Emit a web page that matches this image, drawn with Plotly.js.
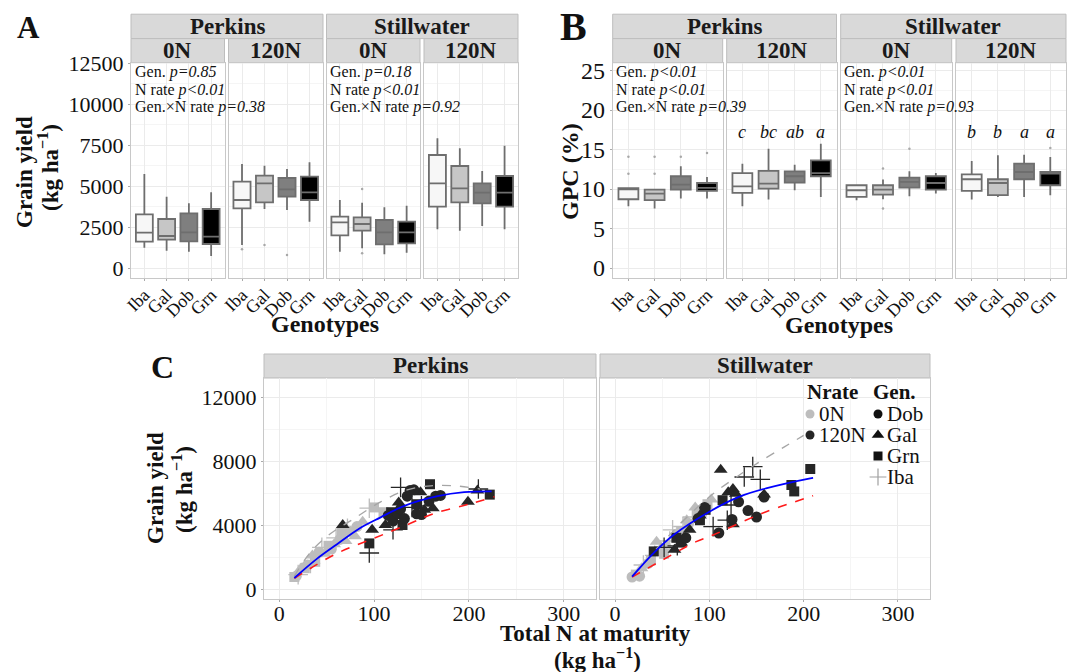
<!DOCTYPE html>
<html><head><meta charset="utf-8">
<script src="https://cdn.plot.ly/plotly-3.0.1.min.js"></script>
<style>body{margin:0;background:#fff}#chart{width:1067px;height:672px}</style>
</head><body><div id="chart"></div>
<script>
// ---------- DATA ----------
const genotypes = ['Iba','Gal','Dob','Grn'];
const sites = ['Perkins','Stillwater'];
const nrates = ['0N','120N'];
const legendGen = ['Dob','Gal','Grn','Iba'];
// facets order: Perkins 0N, Perkins 120N, Stillwater 0N, Stillwater 120N ; inner order = genotypes
// Panel A: grain yield (kg/ha) box statistics
const yieldQ1  = [[1624,1746,1644,1482],[3657,4022,4368,4165],[2010,2295,1462,1523],[3759,4022,3961,3759]];
const yieldMed = [[2173,1970,2193,1929],[4165,5181,4815,4632],[2803,2701,2193,2193],[5181,4876,4612,4612]];
const yieldQ3  = [[3291,3006,3352,3616],[5283,5648,5506,5587],[3148,3108,2945,2844],[6909,6238,5181,5628]];
const yieldLo  = [[1258,1075,1014,750],[1421,3616,3555,2844],[1014,1218,852,953],[2376,2295,2579,2376]];
const yieldHi  = [[5750,4368,3961,4632],[6360,6258,6055,6461],[4165,4002,3717,3819],[7925,7315,5933,7478]];
const yieldOutGeno = [[],['Iba','Gal','Dob'],['Gal','Gal'],[]];
const yieldOutVal  = [[],[1160,1420,811],[4835,912],[]];
const yieldStats = [
  ['Gen. <i>p=0.85</i>','N rate <i>p&lt;0.01</i>','Gen.×N rate <i>p=0.38</i>'],
  ['Gen. <i>p=0.18</i>','N rate <i>p&lt;0.01</i>','Gen.×N rate <i>p=0.92</i>']];
// Panel B: GPC (%) box statistics
const gpcQ1  = [[8.71,8.59,9.94,9.76],[9.51,10.06,10.82,11.62],[9.00,9.30,10.19,9.94],[9.76,9.22,11.24,10.48]];
const gpcMed = [[9.95,9.43,10.57,10.14],[10.35,10.69,11.62,12.03],[9.85,9.94,10.90,10.77],[11.24,10.77,12.16,11.95]];
const gpcQ3  = [[10.10,9.94,11.62,10.77],[12.03,12.29,12.25,13.64],[10.48,10.48,11.45,11.62],[11.87,11.24,13.22,12.16]];
const gpcLo  = [[7.83,7.54,8.80,8.80],[7.83,8.67,9.85,9.00],[8.59,8.71,9.09,9.43],[8.67,9.00,9.00,9.22]];
const gpcHi  = [[10.10,9.94,12.88,11.53],[13.22,15.11,13.09,15.74],[10.60,11.20,12.25,12.03],[13.55,14.27,14.35,14.06]];
const gpcOutGeno = [['Iba','Iba','Gal','Gal','Dob','Grn'],[],['Gal','Gal','Dob'],['Grn']];
const gpcOutVal  = [[14.1,11.95,14.1,11.95,14.1,14.56],[],[12.6,7.54,15.1],[15.2]];
const gpcLetters = [[],['c','bc','ab','a'],[],['b','b','a','a']];
const gpcStats = [
  ['Gen. <i>p&lt;0.01</i>','N rate <i>p&lt;0.01</i>','Gen.×N rate <i>p=0.39</i>'],
  ['Gen. <i>p&lt;0.01</i>','N rate <i>p&lt;0.01</i>','Gen.×N rate <i>p=0.93</i>']];
// Panel C: total N at maturity (kg/ha) vs grain yield (kg/ha)
const pk0_dob_x=[18,30,42,55,64,75,82],          pk0_dob_y=[800,1500,2300,2500,3100,3600,3900];
const pk0_gal_x=[22,35,48,58,70,80,88],          pk0_gal_y=[1200,2100,2200,2800,3000,3300,4200];
const pk0_grn_x=[16,27,38,52,66,100,110],        pk0_grn_y=[750,1300,1700,2700,3500,5100,4800];
const pk0_iba_x=[20,33,45,60,72,95],             pk0_iba_y=[900,1600,2600,3200,3800,5050];
const pk1_dob_x=[115,120,125,128,132,135,138,142,145,150,158,165,170];
const pk1_dob_y=[4600,4250,4700,5000,4400,5800,6150,6200,4700,4650,5500,5800,5850];
const pk1_gal_x=[67,98,112,126,149,153,162,199,209], pk1_gal_y=[4000,3700,4000,5400,6050,4950,5050,5450,6150];
const pk1_grn_x=[95,118,130,145,159,222],        pk1_grn_y=[2850,4800,4000,5300,6550,5900];
const pk1_iba_x=[95,120,128,140,150,210],        pk1_iba_y=[2250,3700,6350,5100,5200,6250];
const sw0_dob_x=[18,26,35,50,66,78,92],          sw0_dob_y=[750,800,1600,2400,3200,4100,4700];
const sw0_gal_x=[28,44,55,64,76,85,102],         sw0_gal_y=[1300,2950,2700,3400,4300,5100,5600];
const sw0_grn_x=[22,38,52,70,88,98],             sw0_grn_y=[900,1800,2200,3600,4800,5300];
const sw0_iba_x=[30,42,58,61,72,82],             sw0_iba_y=[1500,2100,3000,3700,3900,4500];
const sw1_dob_x=[75,88,95,110,124,131,141,150,158], sw1_dob_y=[3200,4400,5100,3500,4350,5450,4900,4500,5750];
const sw1_gal_x=[63,70,79,90,112,120,125,125,128,158], sw1_gal_y=[2450,2900,3700,4600,7450,6050,6250,4050,5950,5900];
const sw1_grn_x=[41,65,70,90,96,114,187,190,207], sw1_grn_y=[2350,3200,2900,4300,4950,5550,6500,6100,7500];
const sw1_iba_x=[52,66,104,119,123,137,146,154], sw1_iba_y=[2600,2700,3900,4300,5250,7000,7650,6850];
// fitted curves
const pk_fitBlue_x=[16,40,61,85,107,132,167,195,224], pk_fitBlue_y=[690,1900,2800,3800,4480,5200,5800,6050,6100];
const pk_fitRed_x=[16,60,100,135,164,200,227],        pk_fitRed_y=[670,2200,3170,4020,4730,5300,5770];
const pk_fitGray_x=[16,33,55,79,107,135,160,185,212], pk_fitGray_y=[800,2300,3500,4400,5450,6200,6450,6450,6250];
const sw_fitBlue_x=[18,40,62,100,132,160,207,210],    sw_fitBlue_y=[770,2200,3375,4830,5770,6290,6920,6950];
const sw_fitRed_x=[18,50,86,104,156,207,210],         sw_fitRed_y=[750,1800,2960,3375,4730,5770,5830];
const sw_fitGray_x=[18,50,80,104,130,156,180,200],    sw_fitGray_y=[800,2900,4700,5950,7050,8050,8900,9600];

// ---------- STYLE / LAYOUT ----------
const W=1067, H=672, F='Liberation Serif, Times New Roman, serif';
const boxFill=['#f7f7f7','#c6c6c6','#7f7f7f','#000000'];
const boxLine='#6e6e6e';
const nColor={'0N':'#bdbdbd','120N':'#262626'};
const genSym={Dob:'circle',Gal:'triangle-up',Grn:'square',Iba:'cross-thin-open'};
const genSize={Dob:11,Gal:12,Grn:10,Iba:14};
const px=p=>p/W, py=p=>1-p/H;
const A_dom=[[131,224.5],[228.5,323],[326.5,420],[424,518]];
const B_dom=[[612.7,722.7],[726.7,836.5],[840.7,951.7],[956,1066]];
const C_dom=[[264,596],[600,930]];
const AB_y=[62.7,278.3], C_y=[378,599];

const traces=[], layout={
  width:W,height:H,margin:{l:0,r:0,t:0,b:0},paper_bgcolor:'#fff',plot_bgcolor:'rgba(0,0,0,0)',
  boxmode:'overlay',showlegend:false,font:{family:F,color:'#111'},shapes:[],annotations:[]
};
const grid='#ebebeb', minorGrid='#f5f5f5', border='#c8c8c8';
function ax(n){return n===1?'':String(n);}
function catAxis(dom,n){
  return {domain:[px(dom[0]),px(dom[1])],anchor:'y'+ax(n),type:'category',categoryorder:'array',
    categoryarray:genotypes,tickmode:'array',tickvals:genotypes,ticktext:genotypes,range:[-0.6,3.6],
    tickangle:-45,tickfont:{family:F,size:18,color:'#111'},ticklabelstandoff:-4,
    showgrid:true,gridcolor:grid,showline:true,mirror:true,linecolor:border,ticks:'outside',ticklen:2,
    tickcolor:'#aaa',zeroline:false,fixedrange:true};
}
function linAxis(dom,n,range,dtick,minor,show,size){
  return {domain:[py(dom[1]),py(dom[0])],anchor:'x'+ax(n),range:range,tick0:0,dtick:dtick,tickformat:'d',
    minor:{tick0:0,dtick:minor,showgrid:true,gridcolor:minorGrid},
    showticklabels:show,tickfont:{family:F,size:size,color:'#111'},showgrid:true,gridcolor:grid,
    showline:true,mirror:true,linecolor:border,ticks:show?'outside':'',ticklen:2,tickcolor:'#aaa',
    zeroline:false,fixedrange:true};
}
function xLin(dom,n){
  return {domain:[px(dom[0]),px(dom[1])],anchor:'y'+ax(n),range:[-16,334],tick0:0,dtick:100,tickformat:'d',
    minor:{tick0:0,dtick:50,showgrid:true,gridcolor:minorGrid},tickfont:{family:F,size:22,color:'#111'},
    ticklabelstandoff:-7,
    showgrid:true,gridcolor:grid,showline:true,mirror:true,linecolor:border,ticks:'outside',ticklen:2,
    tickcolor:'#aaa',zeroline:false,fixedrange:true};
}
function strip(x0,x1,y0,y1,text,size){
  layout.shapes.push({type:'rect',xref:'paper',yref:'paper',x0:px(x0),x1:px(x1),y0:py(y1),y1:py(y0),
    fillcolor:'#d9d9d9',line:{color:'#bdbdbd',width:1},layer:'below'});
  layout.annotations.push({xref:'paper',yref:'paper',x:px((x0+x1)/2),y:py((y0+y1)/2),text:'<b>'+text+'</b>',
    showarrow:false,xanchor:'center',yanchor:'middle',font:{family:F,size:size,color:'#1a1a1a'}});
}
function txt(x,y,text,size,opts){
  layout.annotations.push(Object.assign({xref:'paper',yref:'paper',x:px(x),y:py(y),text:text,showarrow:false,
    xanchor:'center',yanchor:'middle',font:{family:F,size:size,color:'#111'}},opts||{}));
}

// ---------- Panels A and B (box plots) ----------
function boxPanel(doms,axOffset,Q1,MED,Q3,LO,HI,outG,outV,range,dtick,minor,tsize){
  for(let f=0;f<4;f++){
    const n=axOffset+f+1;
    layout['xaxis'+ax(n)]=catAxis(doms[f],n);
    layout['yaxis'+ax(n)]=linAxis(AB_y,n,range,dtick,minor,f===0,tsize);
    for(let g=0;g<4;g++){
      traces.push({type:'box',x:[genotypes[g]],q1:[Q1[f][g]],median:[MED[f][g]],q3:[Q3[f][g]],
        lowerfence:[LO[f][g]],upperfence:[HI[f][g]],fillcolor:boxFill[g],line:{color:boxLine,width:1.8},
        whiskerwidth:0,width:0.76,boxpoints:false,xaxis:'x'+ax(n),yaxis:'y'+ax(n),showlegend:false,hoverinfo:'skip'});
    }
    if(outG[f].length){
      traces.push({type:'scatter',mode:'markers',x:outG[f],y:outV[f],marker:{size:2.5,color:'#a8a8a8'},
        xaxis:'x'+ax(n),yaxis:'y'+ax(n),showlegend:false,hoverinfo:'skip'});
    }
  }
}
boxPanel(A_dom,0,yieldQ1,yieldMed,yieldQ3,yieldLo,yieldHi,yieldOutGeno,yieldOutVal,[-610,12537],2500,1250,22);
boxPanel(B_dom,4,gpcQ1,gpcMed,gpcQ3,gpcLo,gpcHi,gpcOutGeno,gpcOutVal,[-1.3,26.0],5,2.5,24);

// letters above GPC boxes
gpcLetters.forEach((arr,f)=>{arr.forEach((l,g)=>{
  layout.annotations.push({xref:'x'+ax(5+f),yref:'y'+ax(5+f),x:genotypes[g],y:17.2,text:'<i>'+l+'</i>',
    showarrow:false,yanchor:'middle',font:{family:F,size:18,color:'#111'}});
});});

// strips A & B
strip(A_dom[0][0],A_dom[1][1],14.2,38.6,sites[0],23); strip(A_dom[2][0],A_dom[3][1],14.2,38.6,sites[1],23);
strip(B_dom[0][0],B_dom[1][1],14.2,38.6,sites[0],23); strip(B_dom[2][0],B_dom[3][1],14.2,38.6,sites[1],23);
for(let f=0;f<4;f++){strip(A_dom[f][0],A_dom[f][1],38.6,62.7,nrates[f%2],23);strip(B_dom[f][0],B_dom[f][1],38.6,62.7,nrates[f%2],23);}

// stats text
[[133,yieldStats[0]],[328,yieldStats[1]],[614,gpcStats[0]],[842,gpcStats[1]]].forEach(([x,lines])=>{
  lines.forEach((t,i)=>txt(x,[72,89.5,107][i],t,16,{xanchor:'left'}));
});

// ---------- Panel C (scatter) ----------
layout.xaxis9=xLin(C_dom[0],9); layout.xaxis10=xLin(C_dom[1],10);
layout.yaxis9=linAxis(C_y,9,[-625,13190],4000,2000,true,22);
layout.yaxis10=linAxis(C_y,10,[-625,13190],4000,2000,false,22);
const groups=[
  [9,'0N','Iba',pk0_iba_x,pk0_iba_y],[9,'0N','Gal',pk0_gal_x,pk0_gal_y],[9,'0N','Grn',pk0_grn_x,pk0_grn_y],[9,'0N','Dob',pk0_dob_x,pk0_dob_y],
  [9,'120N','Iba',pk1_iba_x,pk1_iba_y],[9,'120N','Gal',pk1_gal_x,pk1_gal_y],[9,'120N','Grn',pk1_grn_x,pk1_grn_y],[9,'120N','Dob',pk1_dob_x,pk1_dob_y],
  [10,'0N','Iba',sw0_iba_x,sw0_iba_y],[10,'0N','Gal',sw0_gal_x,sw0_gal_y],[10,'0N','Grn',sw0_grn_x,sw0_grn_y],[10,'0N','Dob',sw0_dob_x,sw0_dob_y],
  [10,'120N','Iba',sw1_iba_x,sw1_iba_y],[10,'120N','Gal',sw1_gal_x,sw1_gal_y],[10,'120N','Grn',sw1_grn_x,sw1_grn_y],[10,'120N','Dob',sw1_dob_x,sw1_dob_y]];
groups.forEach(([n,nr,g,xs,ys])=>{
  traces.push({type:'scatter',mode:'markers',x:xs,y:ys,xaxis:'x'+n,yaxis:'y'+n,showlegend:false,hoverinfo:'skip',
    marker:{symbol:genSym[g],size:genSize[g],color:nColor[nr],line:{width:g==='Iba'?1.3:0,color:nColor[nr]}}});
});
const fits=[[9,pk_fitGray_x,pk_fitGray_y,'#a6a6a6','dash',1.3],[9,pk_fitRed_x,pk_fitRed_y,'#ff1a1a','dash',1.6],[9,pk_fitBlue_x,pk_fitBlue_y,'#0000ff','solid',1.8],
  [10,sw_fitGray_x,sw_fitGray_y,'#a6a6a6','dash',1.3],[10,sw_fitRed_x,sw_fitRed_y,'#ff1a1a','dash',1.6],[10,sw_fitBlue_x,sw_fitBlue_y,'#0000ff','solid',1.8]];
fits.forEach(([n,xs,ys,c,d,w])=>{
  traces.push({type:'scatter',mode:'lines',x:xs,y:ys,xaxis:'x'+n,yaxis:'y'+n,showlegend:false,hoverinfo:'skip',
    line:{color:c,dash:d,width:w,shape:'spline',smoothing:1}});
});
strip(C_dom[0][0],C_dom[0][1],354,378,sites[0],23); strip(C_dom[1][0],C_dom[1][1],354,378,sites[1],23);

// ---------- legend (drawn as keys on a pixel-scaled overlay axis) ----------
layout.xaxis11={domain:[0,1],range:[0,W],visible:false,anchor:'y11',fixedrange:true};
layout.yaxis11={domain:[0,1],range:[H,0],visible:false,anchor:'x11',fixedrange:true};
const legRow=[414,435,456,477], legNx=810, legGx=878;
traces.push({type:'scatter',mode:'markers',x:nrates.map(()=>legNx),y:nrates.map((_,i)=>legRow[i]),xaxis:'x11',yaxis:'y11',
  showlegend:false,hoverinfo:'skip',marker:{symbol:'circle',size:9,color:nrates.map(n=>nColor[n])}});
legendGen.forEach((g,i)=>traces.push({type:'scatter',mode:'markers',x:[legGx],y:[legRow[i]],xaxis:'x11',yaxis:'y11',
  showlegend:false,hoverinfo:'skip',marker:{symbol:genSym[g],size:g==='Iba'?12:(g==='Gal'?11:9),color:g==='Iba'?'#a0a0a0':'#111',
  line:{width:g==='Iba'?1.2:0,color:'#a0a0a0'}}}));
txt(805,392,'<b>Nrate</b>',21,{xanchor:'left'}); txt(871,392,'<b>Gen.</b>',21,{xanchor:'left'});
nrates.forEach((n,i)=>txt(817,legRow[i],n,21,{xanchor:'left'}));
legendGen.forEach((g,i)=>txt(885,legRow[i],g,21,{xanchor:'left'}));

// ---------- titles & panel letters ----------
txt(28,28,'<b>A</b>',31); txt(573,27,'<b>B</b>',40); txt(162,367,'<b>C</b>',32);
txt(24,172,'<b>Grain yield</b>',23,{textangle:-90}); txt(48,168,'<b>(kg ha<sup>−1</sup>)</b>',23,{textangle:-90});
txt(570,172,'<b>GPC (%)</b>',24,{textangle:-90});
txt(325,324,'<b>Genotypes</b>',24); txt(839,325,'<b>Genotypes</b>',24);
txt(155,488,'<b>Grain yield</b>',23,{textangle:-90}); txt(182,490,'<b>(kg ha<sup>−1</sup>)</b>',23,{textangle:-90});
txt(595,633,'<b>Total N at maturity</b>',23); txt(597,658,'<b>(kg ha<sup>−1</sup>)</b>',23);

Plotly.newPlot('chart',traces,layout,{staticPlot:true,displayModeBar:false});
</script></body></html>
